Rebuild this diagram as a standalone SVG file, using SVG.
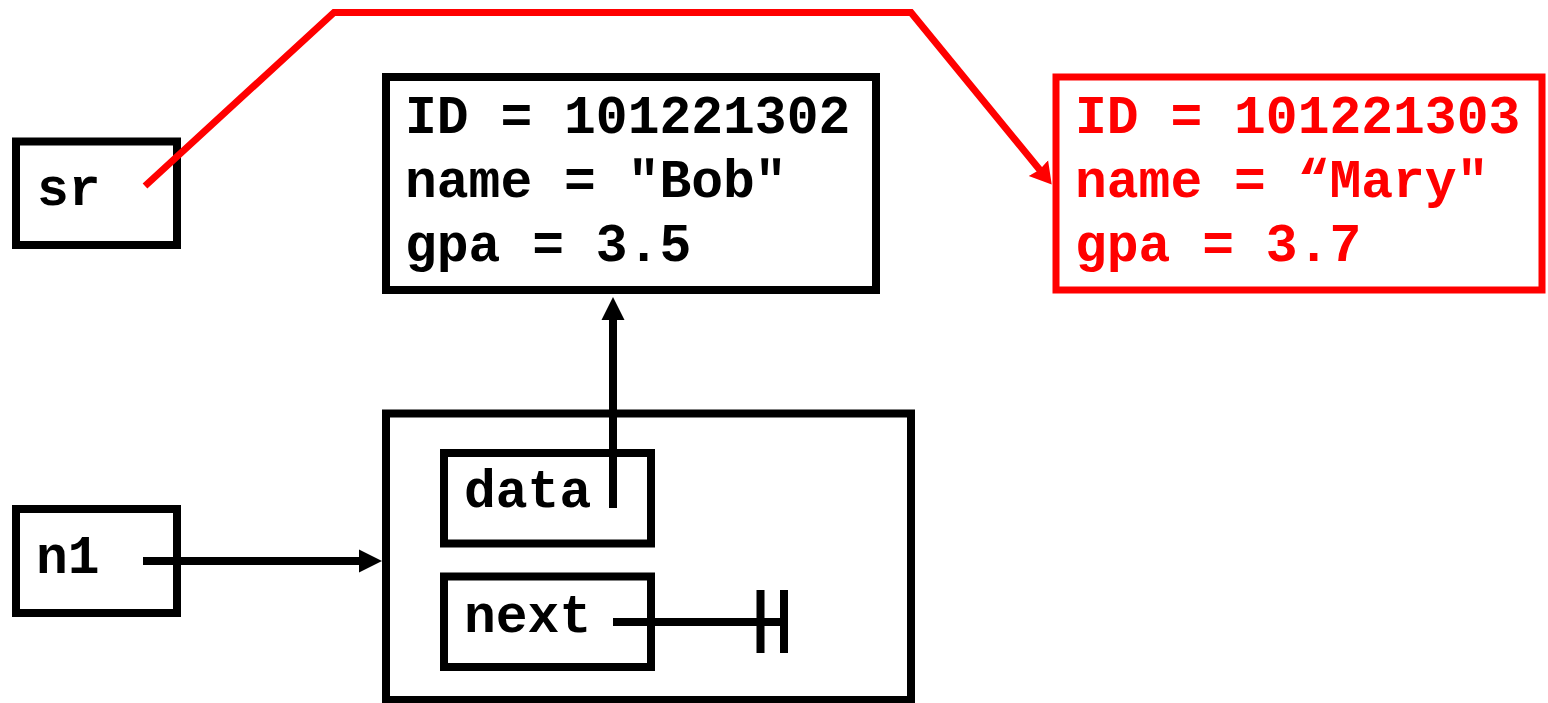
<svg xmlns="http://www.w3.org/2000/svg" width="1548" height="703" viewBox="0 0 1548 703">
<defs>
<style>
.box{fill:#fff;stroke:#000;stroke-width:8}
.rbox{fill:#fff;stroke:#f00;stroke-width:7}
.t{font-family:"Liberation Mono","Courier New",monospace;font-weight:bold;font-size:53px;fill:#000}
.rt{font-family:"Liberation Mono","Courier New",monospace;font-weight:bold;font-size:53px;fill:#f00}
.ln{fill:none;stroke:#000;stroke-width:8}
.rln{fill:none;stroke:#f00;stroke-width:7}
</style>
<marker id="ab" markerUnits="userSpaceOnUse" markerWidth="24" markerHeight="24" viewBox="0 -12 24 24" refX="2" refY="0" orient="auto">
<path d="M23,0 L0,-11.5 L0,11.5 Z" fill="#000"/>
</marker>
<marker id="ar" markerUnits="userSpaceOnUse" markerWidth="24" markerHeight="28" viewBox="0 -14 24 28" refX="3" refY="0" orient="auto">
<path d="M21,0 L0,-12.5 L2,0 L0,12.5 Z" fill="#f00"/>
</marker>
</defs>
<rect width="1548" height="703" fill="#fff"/>
<g id="node-sr">
<rect class="box" x="16" y="141.5" width="161" height="103.5"/>
<text class="t" x="37" y="205">sr</text>
</g>
<g id="node-n1">
<rect class="box" x="16" y="509" width="161" height="104"/>
<text class="t" x="36" y="573">n1</text>
</g>
<g id="node-bob">
<rect class="box" x="386" y="77" width="490" height="213"/>
<text class="t" x="405" y="133">ID = 101221302</text>
<text class="t" x="405" y="197">name = "Bob"</text>
<text class="t" x="405" y="261">gpa = 3.5</text>
</g>
<g id="node-mary">
<rect class="rbox" x="1056" y="77" width="486" height="213"/>
<text class="rt" x="1075" y="133">ID = 101221303</text>
<text class="rt" x="1075" y="197">name = “Mary"</text>
<text class="rt" x="1075" y="261">gpa = 3.7</text>
</g>
<g id="node-listnode">
<rect class="box" x="386" y="413.5" width="525" height="286.5"/>
<g id="field-data">
<rect class="box" x="444" y="453" width="207" height="90.5"/>
<text class="t" x="464" y="507">data</text>
</g>
<g id="field-next">
<rect class="box" x="444" y="576.5" width="207" height="90.5"/>
<text class="t" x="464" y="632">next</text>
</g>
</g>
<g id="connectors">
<path class="ln" d="M613,508 V318" marker-end="url(#ab)"/>
<path class="ln" d="M143,561 H361" marker-end="url(#ab)"/>
<path class="ln" d="M613,622 H784"/>
<path class="ln" d="M760.5,590 V653 M784,590 V653"/>
<path class="rln" d="M145,186 L334,12.5 H911 L1040.3,170.5" marker-end="url(#ar)"/>
</g>
</svg>
